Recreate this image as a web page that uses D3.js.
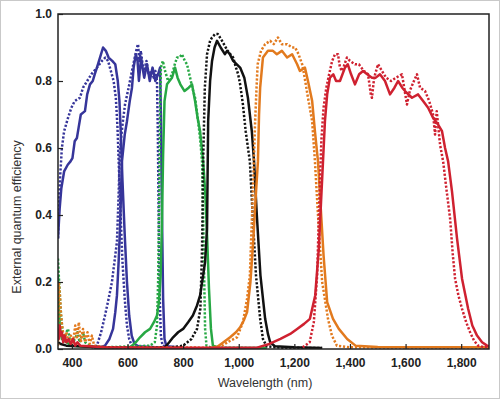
<!DOCTYPE html>
<html>
<head>
<meta charset="utf-8">
<script src="https://cdn.jsdelivr.net/npm/d3@7"></script>
<style>
  html, body { margin: 0; padding: 0; background: #fff; }
  svg { display: block; font-family: "Liberation Sans", Arial, sans-serif; }
</style>
</head>
<body>
<div id="chart"></div>
<script>
// [wavelength nm, external quantum efficiency]
const blue1Solid = [[350,0.33],[356,0.42],[362,0.48],[372,0.53],[385,0.55],[395,0.56],[402,0.57],[410,0.62],[418,0.63],[424,0.66],[432,0.70],[447,0.71],[455,0.76],[465,0.79],[475,0.80],[482,0.82],[490,0.84],[501,0.87],[512,0.90],[522,0.89],[532,0.87],[545,0.86],[556,0.85],[565,0.80],[571,0.74],[576,0.64],[582,0.50],[590,0.34],[598,0.20],[606,0.10],[615,0.04],[625,0.015],[640,0.008],[700,0.005],[800,0.004]];
const blue1Dotted = [[350,0.33],[354,0.45],[358,0.52],[364,0.60],[372,0.65],[386,0.69],[398,0.72],[410,0.74],[429,0.75],[440,0.78],[455,0.80],[470,0.82],[490,0.84],[508,0.86],[520,0.87],[530,0.86],[540,0.83],[550,0.80],[558,0.75],[564,0.66],[570,0.52],[576,0.38],[582,0.26],[590,0.15],[598,0.07],[606,0.03],[615,0.01],[640,0.005],[800,0.004]];
const blue2Solid = [[480,0.004],[505,0.006],[519,0.01],[535,0.03],[548,0.06],[556,0.11],[562,0.16],[568,0.26],[573,0.36],[580,0.56],[590,0.64],[598,0.68],[608,0.74],[616,0.78],[622,0.84],[630,0.88],[636,0.86],[641,0.80],[649,0.87],[654,0.84],[660,0.81],[670,0.85],[680,0.80],[690,0.84],[700,0.80],[710,0.82],[717,0.84],[720,0.70],[724,0.40],[728,0.15],[733,0.03],[740,0.008],[800,0.004]];
const blue2Dotted = [[470,0.004],[490,0.01],[505,0.05],[519,0.10],[532,0.15],[544,0.20],[553,0.26],[562,0.32],[568,0.46],[573,0.60],[582,0.67],[591,0.73],[604,0.78],[616,0.83],[626,0.87],[634,0.90],[638,0.91],[642,0.86],[648,0.89],[654,0.85],[660,0.83],[668,0.86],[676,0.82],[686,0.83],[694,0.81],[700,0.83],[706,0.80],[709,0.65],[712,0.40],[716,0.15],[720,0.04],[726,0.01],[760,0.004]];
const greenSolid = [[350,0.22],[353,0.12],[357,0.06],[364,0.03],[380,0.02],[400,0.01],[500,0.005],[609,0.005],[630,0.02],[645,0.035],[663,0.05],[681,0.06],[695,0.08],[706,0.10],[713,0.14],[719,0.22],[724,0.38],[728,0.58],[733,0.74],[742,0.79],[760,0.81],[771,0.84],[780,0.81],[790,0.79],[805,0.77],[820,0.78],[832,0.79],[843,0.74],[852,0.69],[861,0.65],[872,0.56],[880,0.46],[886,0.34],[893,0.18],[900,0.06],[907,0.01],[930,0.004],[1100,0.003]];
const greenDotted = [[350,0.27],[354,0.20],[358,0.14],[362,0.09],[367,0.05],[374,0.03],[380,0.05],[386,0.06],[392,0.03],[400,0.02],[412,0.03],[420,0.05],[428,0.02],[440,0.05],[448,0.02],[460,0.01],[520,0.005],[620,0.008],[680,0.01],[698,0.02],[706,0.07],[710,0.20],[714,0.45],[717,0.70],[720,0.84],[727,0.86],[735,0.83],[746,0.80],[760,0.82],[770,0.85],[778,0.87],[787,0.87],[796,0.88],[806,0.86],[814,0.85],[825,0.81],[833,0.78],[843,0.75],[854,0.68],[862,0.62],[868,0.56],[872,0.40],[876,0.20],[879,0.06],[884,0.01],[900,0.004],[1100,0.003]];
const blackSolid = [[350,0.02],[360,0.015],[380,0.01],[420,0.008],[500,0.005],[600,0.004],[700,0.004],[735,0.005],[750,0.02],[764,0.035],[782,0.05],[800,0.06],[818,0.08],[835,0.10],[850,0.13],[861,0.16],[872,0.22],[879,0.26],[886,0.36],[890,0.68],[897,0.80],[904,0.86],[913,0.90],[922,0.92],[935,0.90],[950,0.88],[958,0.89],[968,0.88],[980,0.86],[1005,0.84],[1020,0.81],[1033,0.75],[1047,0.65],[1055,0.56],[1065,0.40],[1078,0.22],[1095,0.09],[1105,0.045],[1113,0.02],[1130,0.008],[1200,0.005],[1300,0.003]];
const blackDotted = [[760,0.005],[800,0.01],[830,0.03],[850,0.06],[862,0.12],[868,0.30],[872,0.56],[878,0.78],[886,0.88],[897,0.92],[904,0.93],[915,0.94],[925,0.94],[940,0.92],[960,0.89],[980,0.87],[990,0.84],[998,0.82],[1005,0.79],[1015,0.73],[1025,0.65],[1040,0.56],[1050,0.40],[1062,0.22],[1077,0.09],[1087,0.03],[1100,0.008],[1150,0.004],[1300,0.003]];
const orangeSolid = [[905,0.003],[922,0.006],[945,0.02],[969,0.035],[990,0.05],[1005,0.065],[1018,0.085],[1030,0.11],[1042,0.20],[1052,0.32],[1060,0.44],[1069,0.56],[1073,0.70],[1077,0.78],[1087,0.87],[1105,0.89],[1123,0.89],[1137,0.88],[1155,0.89],[1174,0.87],[1192,0.88],[1210,0.85],[1220,0.83],[1238,0.84],[1249,0.80],[1264,0.74],[1274,0.65],[1285,0.56],[1295,0.42],[1305,0.28],[1318,0.14],[1339,0.09],[1360,0.06],[1390,0.03],[1420,0.01],[1500,0.006],[1900,0.005]];
const orangeDotted = [[350,0.01],[353,0.20],[357,0.16],[361,0.10],[366,0.06],[372,0.03],[380,0.05],[388,0.02],[396,0.04],[404,0.02],[412,0.07],[418,0.03],[425,0.08],[432,0.02],[440,0.06],[448,0.02],[456,0.05],[464,0.015],[472,0.04],[480,0.01],[520,0.005],[900,0.004],[940,0.01],[970,0.025],[994,0.035],[1015,0.08],[1030,0.15],[1040,0.22],[1050,0.45],[1059,0.68],[1064,0.78],[1068,0.85],[1080,0.89],[1095,0.91],[1113,0.92],[1126,0.91],[1141,0.93],[1155,0.91],[1174,0.91],[1192,0.90],[1203,0.90],[1215,0.88],[1228,0.85],[1235,0.82],[1249,0.75],[1264,0.68],[1274,0.56],[1285,0.40],[1300,0.20],[1321,0.09],[1335,0.04],[1353,0.01],[1400,0.005],[1900,0.004]];
const redSolid = [[350,0.06],[353,0.03],[356,0.07],[360,0.04],[364,0.05],[369,0.02],[374,0.04],[380,0.02],[388,0.03],[396,0.015],[404,0.03],[412,0.01],[420,0.02],[430,0.01],[460,0.008],[520,0.005],[700,0.004],[1066,0.004],[1110,0.015],[1150,0.03],[1185,0.045],[1210,0.06],[1235,0.075],[1256,0.09],[1275,0.16],[1288,0.30],[1296,0.44],[1303,0.56],[1310,0.68],[1318,0.76],[1328,0.81],[1340,0.82],[1350,0.80],[1364,0.80],[1382,0.84],[1392,0.85],[1404,0.82],[1418,0.79],[1433,0.82],[1447,0.83],[1462,0.82],[1479,0.81],[1493,0.81],[1508,0.82],[1526,0.80],[1544,0.76],[1560,0.78],[1573,0.80],[1588,0.78],[1598,0.77],[1623,0.75],[1645,0.76],[1663,0.74],[1681,0.72],[1699,0.69],[1717,0.67],[1731,0.65],[1742,0.60],[1753,0.56],[1767,0.47],[1785,0.33],[1803,0.21],[1825,0.12],[1840,0.07],[1857,0.04],[1875,0.02],[1893,0.01],[1900,0.008]];
const redDotted = [[1230,0.005],[1255,0.02],[1270,0.08],[1282,0.22],[1290,0.45],[1297,0.62],[1305,0.72],[1315,0.78],[1325,0.82],[1336,0.86],[1346,0.88],[1357,0.88],[1364,0.84],[1372,0.83],[1389,0.87],[1400,0.86],[1418,0.85],[1432,0.85],[1450,0.83],[1465,0.82],[1475,0.76],[1479,0.75],[1487,0.81],[1501,0.85],[1515,0.83],[1530,0.81],[1548,0.80],[1566,0.81],[1587,0.82],[1597,0.77],[1605,0.73],[1615,0.77],[1630,0.80],[1641,0.82],[1652,0.78],[1670,0.77],[1685,0.74],[1699,0.70],[1706,0.64],[1712,0.71],[1718,0.66],[1724,0.61],[1735,0.56],[1748,0.47],[1760,0.39],[1770,0.28],[1778,0.21],[1790,0.16],[1803,0.12],[1818,0.08],[1832,0.05],[1846,0.025],[1861,0.01],[1880,0.006],[1900,0.005]];

const xTicks = [400, 600, 800, 1000, 1200, 1400, 1600, 1800];
const yTicks = [0, 0.2, 0.4, 0.6, 0.8, 1.0];

const colors = { blue: '#36359a', green: '#27a844', black: '#111111', orange: '#e27a1e', red: '#cf2130' };

const series = [
  { data: blue1Solid, color: colors.blue, dotted: false },
  { data: blue1Dotted, color: colors.blue, dotted: true },
  { data: blue2Solid, color: colors.blue, dotted: false },
  { data: blue2Dotted, color: colors.blue, dotted: true },
  { data: greenSolid, color: colors.green, dotted: false },
  { data: greenDotted, color: colors.green, dotted: true },
  { data: blackSolid, color: colors.black, dotted: false },
  { data: blackDotted, color: colors.black, dotted: true },
  { data: orangeSolid, color: colors.orange, dotted: false },
  { data: orangeDotted, color: colors.orange, dotted: true },
  { data: redSolid, color: colors.red, dotted: false },
  { data: redDotted, color: colors.red, dotted: true },
];

const W = 500, H = 399;
const m = { left: 58, top: 14, right: 11, bottom: 50 };

const svg = d3.select('#chart').append('svg')
  .attr('width', W).attr('height', H);

// outer light frame
svg.append('rect')
  .attr('x', 0.5).attr('y', 0.5).attr('width', W - 1).attr('height', H - 1)
  .attr('fill', '#fff').attr('stroke', '#c9c9c9');

const x = d3.scaleLinear().domain([350, 1900]).range([m.left, W - m.right]);
const y = d3.scaleLinear().domain([0, 1]).range([H - m.bottom, m.top]);

svg.append('defs').append('clipPath').attr('id', 'plot')
  .append('rect')
    .attr('x', m.left).attr('y', m.top)
    .attr('width', W - m.right - m.left).attr('height', H - m.bottom - m.top);

const line = d3.line().x(d => x(d[0])).y(d => y(d[1]));

const g = svg.append('g').attr('clip-path', 'url(#plot)');
g.selectAll('path')
  .data(series).join('path')
    .attr('d', d => line(d.data))
    .attr('fill', 'none')
    .attr('stroke', d => d.color)
    .attr('stroke-width', 2.5)
    .attr('stroke-linejoin', 'round')
    .attr('stroke-dasharray', d => d.dotted ? '2.2,1.8' : null);

// axes with inward ticks
const xAxis = svg.append('g')
  .attr('transform', `translate(0,${H - m.bottom})`)
  .call(d3.axisBottom(x).tickValues(xTicks).tickSizeInner(-5).tickSizeOuter(0)
    .tickPadding(9).tickFormat(d3.format(',')));
const yAxis = svg.append('g')
  .attr('transform', `translate(${m.left},0)`)
  .call(d3.axisLeft(y).tickValues(yTicks).tickSizeInner(-5).tickSizeOuter(0)
    .tickPadding(6).tickFormat(d3.format('.1f')));

[xAxis, yAxis].forEach(a => {
  a.select('.domain').remove();
  a.selectAll('line').attr('stroke', '#222').attr('stroke-width', 1.2);
  a.selectAll('text')
    .attr('font-family', '"Liberation Sans", Arial, sans-serif')
    .attr('font-size', 12).attr('font-weight', 'bold').attr('fill', '#222');
});

// plot frame
svg.append('rect')
  .attr('x', m.left).attr('y', m.top)
  .attr('width', W - m.right - m.left).attr('height', H - m.bottom - m.top)
  .attr('fill', 'none').attr('stroke', '#222').attr('stroke-width', 1.5);

svg.append('text')
  .attr('x', 265).attr('y', 387)
  .attr('text-anchor', 'middle')
  .attr('font-size', 12.5).attr('fill', '#333')
  .text('Wavelength (nm)');

svg.append('text')
  .attr('transform', 'translate(21,217) rotate(-90)')
  .attr('text-anchor', 'middle')
  .attr('font-size', 12.5).attr('fill', '#333')
  .text('External quantum efficiency');
</script>
</body>
</html>
